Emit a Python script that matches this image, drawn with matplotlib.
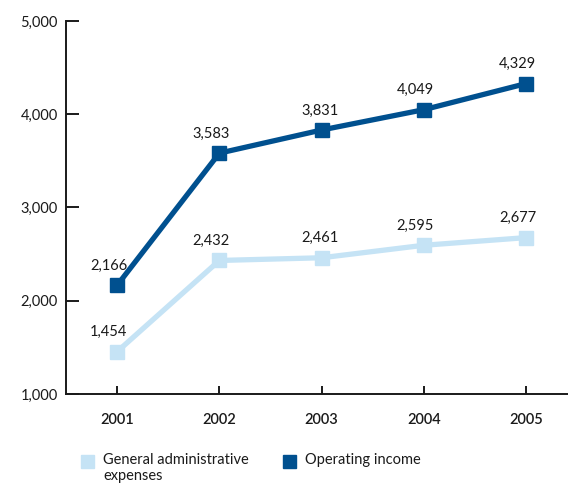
import matplotlib
matplotlib.use("Agg")
import matplotlib.pyplot as plt
from matplotlib.patches import Rectangle

plt.rcParams['font.family'] = ['Lato', 'DejaVu Sans']

years = [2001, 2002, 2003, 2004, 2005]
operating_income = [2166, 3583, 3831, 4049, 4329]
general_admin = [1454, 2432, 2461, 2595, 2677]
series_names = ["General administrative\nexpenses", "Operating income"]
y_ticks = [1000, 2000, 3000, 4000, 5000]

dark_blue = "#00508f"
light_blue = "#c5e3f5"
ink = "#1a1a1a"

W, H = 568, 486
fig = plt.figure(figsize=(W / 100, H / 100), dpi=100)
ax = fig.add_axes([66 / W, (H - 394) / H, (W - 66) / W, (394 - 21) / H])

for vals, col in [(general_admin, light_blue), (operating_income, dark_blue)]:
    ax.plot(years, vals, color=col, lw=3.8, marker="s", ms=9.5,
            solid_joinstyle="miter", zorder=3)
    for x, v in zip(years, vals):
        dx = -1 if x == 2003 else -6
        ax.annotate(f"{v:,}", (x, v), xytext=(dx, 9), textcoords="offset points",
                    ha="center", va="bottom", fontsize=10.5, color=ink)

ax.set_xlim(2000.5, 2005.41)
ax.set_ylim(1000, 5000)
ax.set_xticks(years)
ax.set_yticks(y_ticks)
ax.set_yticklabels([f"{t:,}" for t in y_ticks])
ax.spines["top"].set_visible(False)
ax.spines["right"].set_visible(False)
for s in ("left", "bottom"):
    ax.spines[s].set_linewidth(1.4)
    ax.spines[s].set_color(ink)
ax.tick_params(axis="y", direction="in", length=9.5, width=1.4, pad=6,
               labelsize=10.5, color=ink, labelcolor=ink)
ax.tick_params(axis="x", direction="in", length=6, width=1.4, pad=14,
               labelsize=10.5, color=ink, labelcolor=ink)
for lbl in ax.get_xticklabels():
    lbl.set_fontweight("semibold")

# legend drawn by hand
for (x0, name), col in zip([(81, series_names[0]), (283, series_names[1])], [light_blue, dark_blue]):
    fig.patches.append(Rectangle((x0 / W, (H - 468) / H), 13 / W, 13 / H,
                                 transform=fig.transFigure, color=col))
    fig.text((x0 + 22) / W, (H - 453) / H, name, fontsize=10.5, color=ink,
             va="top", ha="left", linespacing=1.15,
             transform=fig.transFigure)

fig.savefig("out.png", dpi=100)
